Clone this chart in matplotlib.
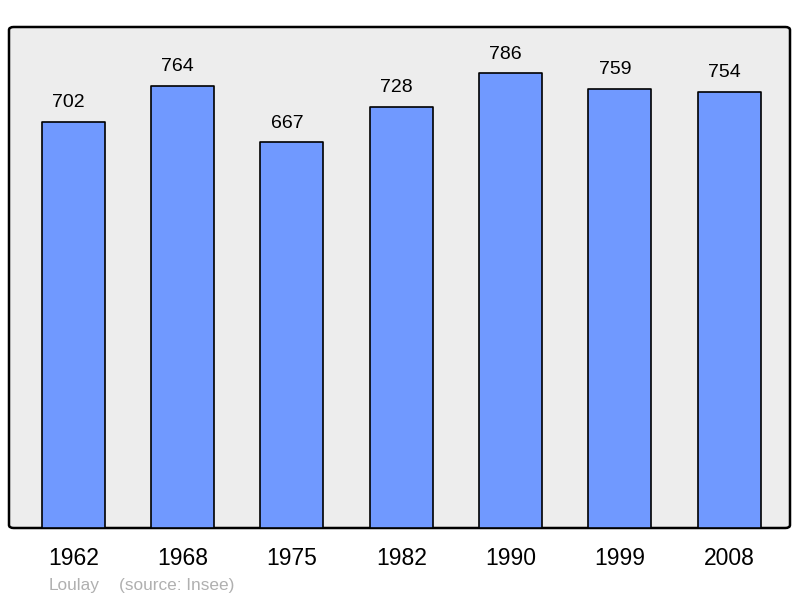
import matplotlib.pyplot as plt
from matplotlib.patches import FancyBboxPatch

years = ['1962', '1968', '1975', '1982', '1990', '1999', '2008']
population = [702, 764, 667, 728, 786, 759, 754]
place = 'Loulay'
source = '(source: Insee)'

plt.rcParams['font.family'] = ['Liberation Sans', 'DejaVu Sans']

fig = plt.figure(figsize=(8, 5.98), dpi=100)
ax = fig.add_axes([9 / 800, 70 / 598, 781 / 800, 501 / 598])
ax.set_facecolor('none')

# rounded frame behind the bars
frame = FancyBboxPatch((0, 0), 1, 1, boxstyle='round,pad=0,rounding_size=0.006',
                       transform=ax.transAxes, facecolor='#ededed', edgecolor='black',
                       linewidth=1.8, zorder=0, clip_on=False)
ax.add_patch(frame)

x = range(len(years))
bars = ax.bar(x, population, width=0.576, color='#7099ff', edgecolor='black',
              linewidth=1.2, zorder=2, joinstyle='round')
for xi, v in zip(x, population):
    ax.annotate(str(v), (xi, v), xytext=(-3.5, 10.5), textcoords='offset points',
                ha='center', va='baseline', fontsize=14, color='black')

ax.set_xlim(-0.588, 6.556)
ax.set_ylim(0, 866)
for s in ax.spines.values():
    s.set_visible(False)
ax.set_yticks([])
ax.set_xticks(list(x))
ax.set_xticklabels(years, fontsize=16.5)
ax.tick_params(axis='x', length=0, pad=13.5)

fig.text(49 / 800, 1 - 590 / 598, place, fontsize=12.4, color='#b0b0b0', ha='left', va='baseline')
fig.text(119 / 800, 1 - 590 / 598, source, fontsize=12.4, color='#b0b0b0', ha='left', va='baseline')

fig.savefig('out.png', dpi=100)
